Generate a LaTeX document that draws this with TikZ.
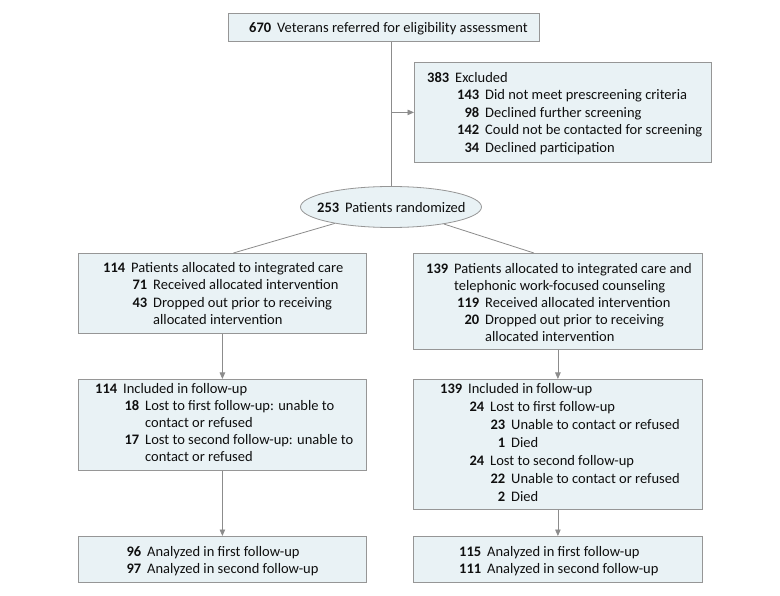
\documentclass[tikz,border=0pt]{standalone}
\usepackage{fontspec}
\setmainfont{Carlito}
\usetikzlibrary{arrows.meta,shapes.geometric,calc}
\definecolor{boxfill}{RGB}{233,242,245}
\definecolor{boxdraw}{RGB}{150,150,150}
\definecolor{linegray}{RGB}{140,140,140}
\definecolor{txt}{RGB}{15,15,15}
\newcommand\numb[2]{\makebox[#1pt][r]{\bfseries #2}\hspace{6pt}}
\newcommand\cont[1]{\hspace*{#1pt}\hspace*{6pt}}
\begin{document}
\begin{tikzpicture}[x=1pt,y=-1pt, font=\fontsize{14.5}{17.5}\selectfont, text=txt,
 box/.style={draw=boxdraw, fill=boxfill, line width=0.8pt, inner sep=0pt, anchor=north west},
 lbl/.style={anchor=base west, align=left, inner sep=0pt, font=\fontsize{14.5}{#1}\selectfont},
 lbl/.default=17.5,
 conn/.style={draw=linegray, line width=0.8pt},
 arr/.style={conn, -{Triangle[width=5.5pt,length=6.5pt]}}]
\useasboundingbox[fill=white] (0,0) rectangle (780,596);

% boxes
\node[box, minimum width=311pt, minimum height=28pt] (top) at (228,13) {};
\node[box, minimum width=297pt, minimum height=100pt] (excl) at (414,62) {};
\node[draw=boxdraw, fill=boxfill, line width=0.8pt, ellipse, minimum width=181pt, minimum height=41pt, inner sep=0pt] (rand) at (391,207) {};
\node[box, minimum width=288pt, minimum height=80pt] (L1) at (78,253) {};
\node[box, minimum width=289pt, minimum height=96pt] (R1) at (413,253) {};
\node[box, minimum width=288pt, minimum height=91pt] (L2) at (78,379) {};
\node[box, minimum width=289pt, minimum height=130pt] (R2) at (413,379) {};
\node[box, minimum width=288pt, minimum height=46pt] (L3) at (78,536) {};
\node[box, minimum width=289pt, minimum height=46pt] (R3) at (413,536) {};

% texts (base anchor = baseline of last line)
\node[lbl] (randt) at (316,212.5) {\numb{23}{253}Patients randomized};
\node[lbl] (topt) at (248,32.5) {\numb{23}{670}Veterans referred for eligibility assessment};
\node[lbl=17.5] (exclt) at (428,152.5) {\numb{21}{383}Excluded\\
\numb{51}{143}Did not meet prescreening criteria\\
\numb{51}{98}Declined further screening\\
\numb{51}{142}Could not be contacted for screening\\
\numb{51}{34}Declined participation};
\node[lbl=17.3] (L1t) at (103,324.4) {\numb{22}{114}Patients allocated to integrated care\\
\numb{44}{71}Received allocated intervention\\
\numb{44}{43}Dropped out prior to receiving\\
\cont{44}allocated intervention};
\node[lbl=16.9] (R1t) at (426,341.1) {\numb{22}{139}Patients allocated to integrated care and\\
\cont{22}telephonic work-focused counseling\\
\numb{53}{119}Received allocated intervention\\
\numb{53}{20}Dropped out prior to receiving\\
\cont{53}allocated intervention};
\node[lbl=17] (L2t) at (95,461.5) {\numb{22}{114}Included in follow-up\\
\numb{44}{18}Lost to first follow-up: unable to\\
\cont{44}contact or refused\\
\numb{44}{17}Lost to second follow-up: unable to\\
\cont{44}contact or refused};
\node[lbl=18] (R2t) at (439,501.5) {\numb{23}{139}Included in follow-up\\
\numb{45}{24}Lost to first follow-up\\
\numb{66}{23}Unable to contact or refused\\
\numb{66}{1}Died\\
\numb{45}{24}Lost to second follow-up\\
\numb{66}{22}Unable to contact or refused\\
\numb{66}{2}Died};
\node[lbl=17] (L3t) at (126,573.5) {\numb{15}{96}Analyzed in first follow-up\\
\numb{15}{97}Analyzed in second follow-up};
\node[lbl=17] (R3t) at (458,573.5) {\numb{23}{115}Analyzed in first follow-up\\
\numb{23}{111}Analyzed in second follow-up};

% connectors
\draw[conn] (rand.north |- top.south) -- (rand.north);
\draw[arr] (rand.north |- excl.west) -- (excl.west);
\draw[conn] (rand) -- ($(L1.north)+(11,0)$);
\draw[conn] (rand) -- ($(R1.north)+(-24,0)$);
\draw[arr] (L1.south) -- (L2.north);
\draw[arr] (R1.south) -- (R2.north);
\draw[arr] (L2.south) -- (L3.north);
\draw[arr] (R2.south) -- (R3.north);
\end{tikzpicture}
\end{document}
